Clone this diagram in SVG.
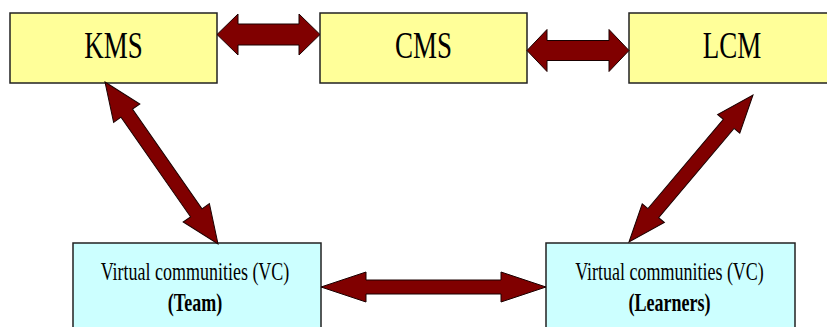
<svg xmlns="http://www.w3.org/2000/svg" width="827" height="327" viewBox="0 0 827 327">
<style>
.top{fill:#FFFF99;stroke:#222;stroke-width:1.5}
.vc{fill:#CCFFFF;stroke:#222;stroke-width:1.5}
.arr{fill:#800000;stroke:#1a0000;stroke-width:1;stroke-linejoin:miter}
text{font-family:'Liberation Serif','Times New Roman',serif;fill:#000;text-anchor:middle}
.t1{font-size:27px}
.t2{font-size:18px}
.b{font-weight:bold}
</style>
<rect width="827" height="327" fill="#fff"/>
<g id="kms"><rect class="top" x="10" y="13" width="207" height="70"/><text class="t1" transform="translate(113.5,58) scale(1,1.4)">KMS</text></g>
<g id="cms"><rect class="top" x="320" y="13" width="207" height="70"/><text class="t1" transform="translate(423.5,58) scale(1,1.4)">CMS</text></g>
<g id="lcm"><rect class="top" x="629" y="13" width="207" height="70"/><text class="t1" transform="translate(732,58) scale(1,1.4)">LCM</text></g>
<g id="vc-team"><rect class="vc" x="73" y="243" width="248" height="100"/><text class="t2" transform="translate(195,280) scale(1,1.4)">Virtual communities (VC)</text><text class="t2 b" transform="translate(195,311) scale(1,1.4)">(Team)</text></g>
<g id="vc-learners"><rect class="vc" x="546" y="243" width="249" height="100"/><text class="t2" transform="translate(669.5,280) scale(1,1.4)">Virtual communities (VC)</text><text class="t2 b" transform="translate(669.5,311) scale(1,1.4)">(Learners)</text></g>
<g id="connectors">
<polygon class="arr" transform="translate(217,34.5)" points="0,0 21,-20.5 21,-10.5 82,-10.5 82,-20.5 103,0 82,20.5 82,10.5 21,10.5 21,20.5"/>
<polygon class="arr" transform="translate(527,50.5)" points="0,0 20,-21 20,-10 82,-10 82,-21 102,0 82,21 82,10 20,10 20,21"/>
<polygon class="arr" transform="translate(321,287)" points="0,0 45,-15 45,-7 180,-7 180,-15 225,0 180,15 180,7 45,7 45,15"/>
<polygon class="arr" transform="translate(105,82) rotate(55.1)" points="0,0 38,-16 38,-7 159.5,-7 159.5,-16 197.5,0 159.5,16 159.5,7 38,7 38,16"/>
<polygon class="arr" transform="translate(629,242) rotate(-49.85)" points="0,0 37.7,-14.5 37.7,-7 154.6,-7 154.6,-14.5 192.3,0 154.6,14.5 154.6,7 37.7,7 37.7,14.5"/>
</g>
</svg>
